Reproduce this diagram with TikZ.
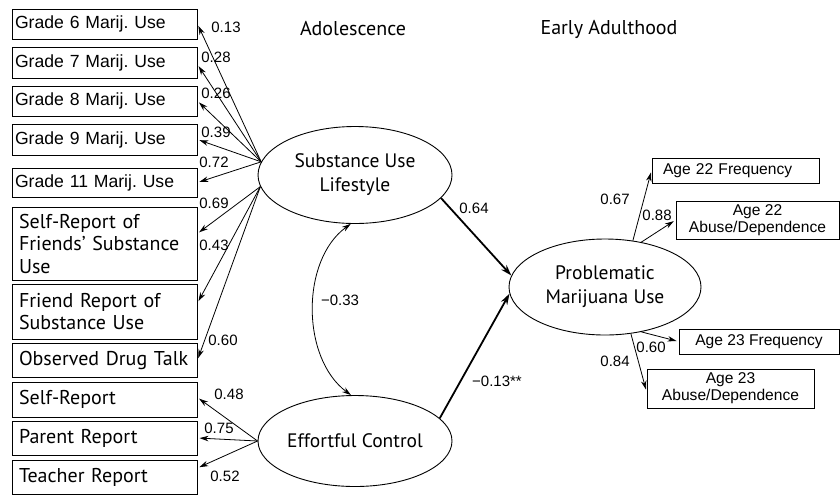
\documentclass[tikz,border=0pt]{standalone}
\usepackage{fontspec}
\setmainfont{Liberation Sans}
\newfontfamily\myr{PT Sans}
\usetikzlibrary{arrows.meta,shapes.geometric}
\frenchspacing
\begin{document}
\begin{tikzpicture}[x=1pt,y=-1pt,
  gbox/.style={draw,line width=1pt,inner ysep=0pt,inner xsep=3pt,text width=179pt,align=left,minimum height=#1,font=\fontsize{17.6}{21}\selectfont},
  mbox/.style={draw,line width=1pt,inner ysep=0pt,inner xsep=7pt,text width=171pt,align=left,minimum height=#1,font=\myr\fontsize{20}{22.5}\selectfont},
  rbox/.style={draw,line width=1pt,inner sep=0pt,minimum width=#1,align=center,font=\fontsize{15.6}{17}\selectfont},
  lat/.style={draw,ellipse,line width=0.9pt,inner sep=0pt,minimum width=194pt,align=center,font=\myr\fontsize{19.5}{24}\selectfont},
  lab/.style={inner sep=0pt,font=\fontsize{15}{17}\selectfont},
  head/.style={inner sep=0pt,font=\myr\fontsize{20}{22}\selectfont},
  arr/.style={line width=0.8pt,-{Stealth[length=9pt,width=5.5pt]},shorten >=2pt},
  thk/.style={line width=1.8pt,-{Stealth[length=11pt,width=7pt]}},
]
\useasboundingbox (0,0) rectangle (840,496);
% headings
\node[head] (hA) at (353,29) {Adolescence};
\node[head] (hE) at (609,29) {Early Adulthood};
% left boxes
\node[gbox=30pt] (g6) at (104.5,24) {Grade 6 Marij. Use};
\node[gbox=31pt] (g7) at (104.5,62.5) {Grade 7 Marij. Use};
\node[gbox=30pt] (g8) at (104.5,101) {Grade 8 Marij. Use};
\node[gbox=31pt] (g9) at (104.5,139.5) {Grade 9 Marij. Use};
\node[gbox=29pt] (g11) at (104.5,182.5) {Grade 11 Marij. Use};
\node[mbox=73pt] (srf) at (104.5,243.5) {Self-Report of\\Friends’ Substance\\Use};
\node[mbox=55pt] (frs) at (104.5,311.5) {Friend Report of\\Substance Use};
\node[mbox=34pt] (odt) at (104.5,360) {Observed Drug Talk};
\node[mbox=35pt] (sr) at (104.5,399.5) {Self-Report};
\node[mbox=34pt] (pr) at (104.5,438) {Parent Report};
\node[mbox=34pt] (tr) at (104.5,477) {Teacher Report};
% latent variables
\node[lat,minimum height=97pt] (sul) at (355,175) {Substance Use\\Lifestyle};
\node[lat,minimum height=91pt] (ec) at (355,441) {Effortful Control};
\node[lat,minimum height=96pt,minimum width=192pt] (pmu) at (605,287) {Problematic\\Marijuana Use};
% right boxes
\node[rbox=167pt,minimum height=25pt,align=left,text width=145pt,inner xsep=11pt] (a22f) at (735.5,170.5) {Age 22 Frequency};
\node[rbox=163pt,minimum height=38pt] (a22d) at (757.5,220) {Age 22\\Abuse/Dependence};
\node[rbox=160pt,minimum height=25pt] (a23f) at (759,341.5) {Age 23 Frequency};
\node[rbox=167pt,minimum height=39pt] (a23d) at (730.5,388.5) {Age 23\\Abuse/Dependence};
% SUL indicators
\draw[arr] (sul.172) -- (g6.east);
\draw[arr] (sul.172) -- ([yshift=-2pt]g7.east);
\draw[arr] (sul.172) -- (g8.east);
\draw[arr] (sul.172) -- (g9.east);
\draw[arr] (sul.172) -- (g11.east);
\draw[arr] (sul.187) -- ([yshift=10pt]srf.east);
\draw[arr] (sul.187) -- ([yshift=8.5pt]frs.east);
\draw[arr] (sul.187) -- (odt.east);
% EC indicators
\draw[arr] (ec.west) -- ([yshift=2pt]sr.east);
\draw[arr] (ec.west) -- (pr.east);
\draw[arr] (ec.west) -- ([yshift=9pt]tr.east);
% structural paths
\draw[thk] (sul.-15) -- (pmu.173);
\draw[thk] (ec.15) -- (pmu.184);
\draw[line width=0.8pt,{Stealth[length=9pt,width=5.5pt]}-{Stealth[length=9pt,width=5.5pt]}] (sul.265) .. controls +(-50,36) and +(-50,-37) .. (ec.95);
% PMU indicators
\draw[arr] (pmu.59) -- (a22f.west);
\draw[arr] (pmu.51) -- (a22d.west);
\draw[arr] (pmu.-51) -- (a23f.west);
\draw[arr] (pmu.-61) -- ([yshift=-3pt]a23d.west);
% labels
\node[lab] (l1) at (226,27) {0.13};
\node[lab] (l2) at (216,57) {0.28};
\node[lab] (l3) at (216,93) {0.26};
\node[lab] (l4) at (216,132) {0.39};
\node[lab] (l5) at (214,162) {0.72};
\node[lab] (l6) at (214,203) {0.69};
\node[lab] (l7) at (214,245) {0.43};
\node[lab] (l8) at (223,340) {0.60};
\node[lab] (l9) at (229,394) {0.48};
\node[lab] (l10) at (219,428) {0.75};
\node[lab] (l11) at (225,476) {0.52};
\node[lab] (l12) at (474,208) {0.64};
\node[lab] (l13) at (340,300) {−0.33};
\node[lab] (l14) at (497,381) {−0.13**};
\node[lab] (l15) at (615,199) {0.67};
\node[lab] (l16) at (657,215) {0.88};
\node[lab] (l17) at (651,347) {0.60};
\node[lab] (l18) at (615,361) {0.84};
\end{tikzpicture}
\end{document}
